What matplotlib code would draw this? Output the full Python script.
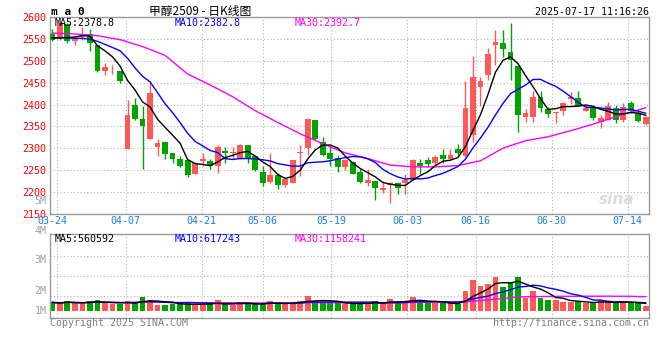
import numpy as np
import pandas as pd
import matplotlib
matplotlib.use('Agg')
import matplotlib.pyplot as plt

# daily candles 03-21 .. 07-17 (index 0..79)
tick_idx = [1, 10, 20, 28, 37, 47, 56, 66, 76]
tick_labels = ['03-24', '04-07', '04-21', '05-06', '05-19', '06-03', '06-16', '06-30', '07-14']

opens = [2561, 2552, 2586, 2545, 2555, 2562, 2537, 2478, 2483, 2476,
         2299, 2398, 2366, 2321, 2303, 2314, 2289, 2276, 2272, 2241,
         2270, 2270, 2259, 2293, 2289, 2276, 2307, 2282, 2245, 2222,
         2238, 2215, 2221, 2289, 2300, 2364, 2315, 2289, 2278, 2257,
         2268, 2245, 2221, 2225, 2204, 2215, 2221, 2219, 2228, 2266,
         2272, 2267, 2284, 2276, 2297, 2282, 2331, 2440, 2467, 2537,
         2542, 2520, 2489, 2371, 2371, 2417, 2390, 2380, 2385, 2412,
         2416, 2385, 2392, 2360, 2365, 2391, 2365, 2404, 2380, 2356]
highs = [2573, 2590, 2588, 2553, 2579, 2573, 2537, 2495, 2491, 2478,
         2410, 2414, 2396, 2455, 2320, 2314, 2289, 2282, 2274, 2268,
         2289, 2274, 2308, 2303, 2303, 2310, 2307, 2282, 2259, 2288,
         2244, 2232, 2272, 2308, 2370, 2364, 2325, 2306, 2284, 2274,
         2270, 2251, 2251, 2225, 2225, 2222, 2221, 2240, 2276, 2276,
         2279, 2284, 2298, 2298, 2309, 2455, 2512, 2464, 2529, 2570,
         2571, 2588, 2489, 2390, 2430, 2430, 2395, 2384, 2404, 2429,
         2431, 2400, 2392, 2376, 2406, 2400, 2404, 2408, 2385, 2373]
lows = [2545, 2547, 2541, 2536, 2549, 2524, 2475, 2467, 2471, 2449,
        2297, 2364, 2251, 2320, 2282, 2275, 2265, 2256, 2234, 2240,
        2259, 2251, 2244, 2266, 2278, 2274, 2266, 2247, 2213, 2220,
        2206, 2210, 2219, 2236, 2285, 2318, 2282, 2259, 2246, 2249,
        2241, 2219, 2212, 2181, 2196, 2173, 2194, 2194, 2227, 2241,
        2256, 2261, 2267, 2274, 2281, 2280, 2315, 2396, 2457, 2491,
        2510, 2457, 2337, 2361, 2361, 2384, 2372, 2358, 2376, 2401,
        2396, 2385, 2364, 2346, 2365, 2357, 2361, 2381, 2360, 2353]
closes = [2548, 2587, 2545, 2553, 2559, 2541, 2477, 2486, 2485, 2453,
          2377, 2366, 2350, 2427, 2311, 2286, 2274, 2259, 2238, 2266,
          2276, 2259, 2303, 2288, 2291, 2307, 2274, 2250, 2219, 2239,
          2215, 2230, 2272, 2292, 2366, 2320, 2284, 2274, 2257, 2272,
          2241, 2222, 2226, 2209, 2208, 2221, 2208, 2226, 2272, 2259,
          2264, 2279, 2276, 2284, 2289, 2391, 2464, 2455, 2517, 2544,
          2528, 2503, 2377, 2380, 2417, 2392, 2379, 2384, 2404, 2418,
          2397, 2392, 2369, 2369, 2396, 2365, 2394, 2385, 2362, 2371]
volumes = [690000, 610000, 810000, 610000, 610000, 810000, 890000, 610000, 530000, 530000,
           810000, 690000, 1170000, 890000, 470000, 470000, 530000, 530000, 690000, 470000,
           470000, 610000, 890000, 530000, 470000, 690000, 610000, 530000, 530000, 810000,
           610000, 530000, 690000, 810000, 1220000, 810000, 690000, 610000, 610000, 610000,
           530000, 610000, 690000, 810000, 530000, 970000, 690000, 810000, 1170000, 690000,
           610000, 610000, 610000, 610000, 530000, 1640000, 2560000, 2080000, 2220000, 2830000,
           2000000, 2420000, 2830000, 1030000, 1640000, 1080000, 890000, 890000, 690000, 690000,
           810000, 610000, 610000, 890000, 690000, 610000, 810000, 610000, 610000, 420000]

# moving averages before enough history is on screen
ma5_head = [2553, 2553, 2554, 2555]
ma10_head = [2553, 2553, 2553, 2552, 2552, 2550, 2545, 2538, 2531]
ma30_idx = [0, 3, 6, 9, 12, 15, 18, 21, 24, 27, 30, 33, 36, 39, 42, 45, 48, 51,
            54, 57, 60, 63, 66, 69, 72, 75, 79]
ma30_val = [2564, 2562, 2558, 2549, 2533, 2513, 2470, 2445, 2418, 2386, 2359, 2333,
            2310, 2289, 2276, 2261, 2257, 2257, 2260, 2271, 2300, 2317, 2326, 2340,
            2355, 2372, 2392.7]

RED = '#ff5858'
GREEN = '#00a300'
GRID = '#b4b4b4'
W, H = 660, 360

def fx(x):
    return x / W

def fy(y):
    return 1 - y / H

plt.rcParams['font.family'] = ['DejaVu Sans Mono']
plt.rcParams['font.size'] = 7.2

fig = plt.figure(figsize=(6.6, 3.6), dpi=100)
ax = fig.add_axes([fx(50.3), fy(213.5), 599 / W, 196.1 / H])
axv = fig.add_axes([fx(50.3), fy(318), 599 / W, 83.7 / H])

x = np.arange(len(closes))
o = np.array(opens, float)
c = np.array(closes, float)
up = c >= o
cols = np.where(up, RED, GREEN)
grid_x = 0.65 + (np.array(tick_idx) - 1) * 1.0127

# ---- price panel
for g in grid_x:
    ax.axvline(g, color=GRID, lw=0.8, ls=(0, (1, 2)), zorder=0)
for v in range(2200, 2600, 50):
    ax.axhline(v, color=GRID, lw=0.8, ls=(0, (1, 2)), zorder=0)

ax.vlines(x, lows, highs, colors=cols, lw=1, zorder=2)
body = np.maximum(np.abs(c - o), 1.3)
ax.bar(x, body, bottom=np.minimum(o, c), width=0.78, color=cols, zorder=3)

cs = pd.Series(closes, dtype=float)
ma5 = cs.rolling(5).mean().values
ma5[:4] = ma5_head
ma10 = cs.rolling(10).mean().values
ma10[:9] = ma10_head
ax.plot(ma30_idx, ma30_val, color='#ff00ff', lw=1, zorder=4)
ax.plot(x, ma10, color='#0000ff', lw=1, zorder=4)
ax.plot(x, ma5, color='black', lw=1, zorder=5)

ax.set_xlim(-0.28, 79.48)
ax.set_ylim(2150, 2600)
ax.set_xticks([])
ax.set_yticks(range(2150, 2601, 50))
ax.tick_params(axis='y', length=0, pad=3, labelcolor='#ff0000', labelsize=7.2)
for s in ax.spines.values():
    s.set_color('#9a9a9a')
    s.set_linewidth(1)
ax.spines['top'].set_linestyle((0, (1, 1)))

for g, lab in zip(grid_x, tick_labels):
    xx = g - 0.7 if lab == tick_labels[0] else g
    ax.text(xx, -0.04, lab, transform=ax.get_xaxis_transform(), ha='center',
            va='center', color='#1a7fd6', fontsize=7.2)

ax.text(0.975, 0.07, 'sina', transform=ax.transAxes, ha='right', va='center',
        fontsize=11, fontweight='bold', style='italic', color='#dcdcdc',
        family='DejaVu Sans', zorder=1)

# ---- volume panel
vol = np.array(volumes) / 1e6
for g in grid_x:
    axv.axvline(g, color=GRID, lw=0.8, ls=(0, (1, 2)), zorder=0)
for v in [1.25, 2.917, 4.583]:
    axv.axhline(v, color=GRID, lw=0.8, ls=(0, (1, 2)), zorder=0)
axv.bar(x, vol, width=0.78, color=cols, zorder=2)
vs = pd.Series(vol)
axv.plot(x, vs.rolling(30, min_periods=1).mean(), color='#ff00ff', lw=1, zorder=3)
axv.plot(x, vs.rolling(10, min_periods=1).mean(), color='#0000ff', lw=1, zorder=3)
axv.plot(x, vs.rolling(5, min_periods=1).mean(), color='black', lw=1, zorder=4)
axv.set_xlim(-0.28, 79.48)
axv.set_ylim(-0.608, 6.367)
axv.set_xticks([])
axv.set_yticks([])
for s in axv.spines.values():
    s.set_color('#9a9a9a')
    s.set_linewidth(1)

# ---- texts
fig.text(fx(50.7), fy(12), 'm a 0', fontsize=8, fontweight='bold', va='center')
fig.text(fx(200), fy(12), '甲醇2509 - 日K线图', fontsize=8.5, ha='center', va='center',
         family=['Noto Sans CJK SC', 'DejaVu Sans'])
fig.text(fx(649), fy(12), '2025-07-17 11:16:26', ha='right', va='center')

fig.text(fx(54.3), fy(23.5), 'MA5:2378.8', color='black', va='center')
fig.text(fx(174.5), fy(23.5), 'MA10:2382.8', color='#0000ff', va='center')
fig.text(fx(295), fy(23.5), 'MA30:2392.7', color='#ff00ff', va='center')
fig.text(fx(46.5), fy(201), '5M', color='#a0a0a0', ha='right', va='center')

for lab, yy in zip(['4M', '3M', '2M', '1M'], [230.7, 260, 290.7, 310.7]):
    fig.text(fx(46.5), fy(yy), lab, color='#a0a0a0', ha='right', va='center')

fig.text(fx(54.3), fy(238.5), 'MA5:560592', color='black', va='center')
fig.text(fx(175), fy(238.5), 'MA10:617243', color='#0000ff', va='center')
fig.text(fx(295), fy(238.5), 'MA30:1158241', color='#ff00ff', va='center')

fig.text(fx(50), fy(323.5), 'Copyright 2025 SINA.COM', color='#808080', va='center')
fig.text(fx(649.3), fy(323.5), 'http://finance.sina.com.cn', color='#808080',
         ha='right', va='center')

fig.savefig('out.png', dpi=100)
